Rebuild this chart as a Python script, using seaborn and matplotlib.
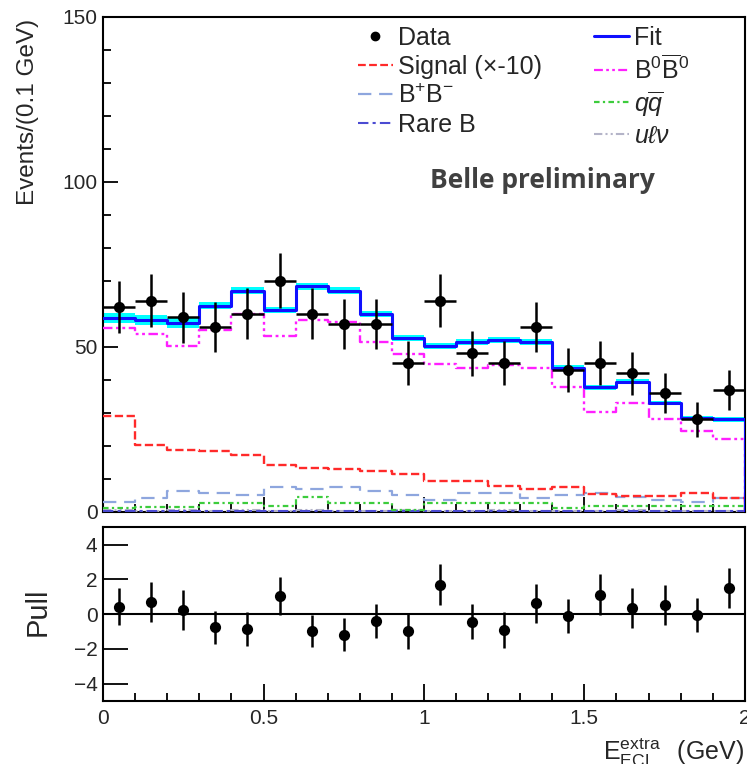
import numpy as np
import pandas as pd
import matplotlib
matplotlib.use("Agg")
import matplotlib.pyplot as plt
from matplotlib.lines import Line2D
from matplotlib.ticker import MultipleLocator
import seaborn as sns

# ---------------- data ----------------
bin_edges = np.linspace(0.0, 2.0, 21)
bin_centers = 0.5 * (bin_edges[:-1] + bin_edges[1:])
data_counts = [62, 64, 59, 56, 60, 70, 60, 57, 57, 45, 64, 48, 45, 56, 43, 45, 42, 36, 28, 37]
fit_total = [58.7, 58.2, 57.2, 62.5, 67.0, 61.2, 68.3, 67.0, 60.0, 52.7,
             50.2, 51.5, 52.0, 51.5, 43.7, 37.7, 39.5, 33.0, 28.5, 28.0]
fit_unc = [1.6, 1.5, 1.4, 1.0, 1.0, 1.0, 1.0, 1.0, 1.0, 0.9,
           0.9, 0.9, 0.9, 0.9, 0.8, 0.8, 0.8, 0.7, 0.7, 0.7]
b0b0 = [55.8, 54.0, 50.2, 55.0, 60.0, 53.2, 58.2, 57.5, 51.5, 47.8,
        44.7, 43.7, 44.5, 43.7, 37.7, 30.3, 33.0, 28.0, 24.5, 22.0]
signal_x10 = [29.0, 20.3, 18.6, 18.3, 17.2, 14.1, 13.4, 12.9, 12.4, 11.6,
              9.5, 9.5, 7.9, 6.9, 7.4, 5.5, 4.8, 4.8, 5.7, 4.3]
bpbm = [3.1, 4.3, 6.2, 5.7, 5.2, 7.4, 6.9, 7.4, 6.2, 5.2,
        3.6, 5.7, 5.7, 4.3, 5.2, 5.7, 4.4, 3.5, 3.0, 4.1]
qqbar = [1.2, 1.5, 1.5, 2.6, 2.6, 1.8, 4.4, 2.6, 2.6, 0.7,
         2.6, 2.6, 2.6, 2.8, 1.2, 1.8, 1.8, 1.8, 1.8, 1.8]
rare_b = [0.3, 0.2, 0.3, 0.2, 0.3, 0.2, 0.3, 0.2, 0.2, 0.3,
          0.2, 0.2, 0.3, 0.2, 0.2, 0.2, 0.3, 0.2, 0.2, 0.2]
ulnu = [0.5, 0.4, 0.5, 0.4, 0.5, 0.4, 0.5, 0.4, 0.4, 0.5,
        0.4, 0.4, 0.5, 0.4, 0.4, 0.4, 0.5, 0.4, 0.4, 0.4]
pull = [0.42, 0.70, 0.23, -0.76, -0.86, 1.03, -0.97, -1.20, -0.38, -1.00,
        1.70, -0.44, -0.91, 0.61, -0.11, 1.12, 0.36, 0.51, -0.06, 1.50]
pull_err = [1.07, 1.13, 1.13, 0.95, 0.98, 1.10, 0.93, 0.95, 0.97, 1.00,
            1.16, 1.00, 1.03, 1.14, 0.97, 1.18, 1.14, 1.14, 0.97, 1.14]

yticks_top = [0, 50, 100, 150]
yticks_pull = [-4, -2, 0, 2, 4]
xticks = [0, 0.5, 1, 1.5, 2]
xtick_labels = ["0", "0.5", "1", "1.5", "2"]

# ---------------- style ----------------
sns.set_theme(style="ticks")
plt.rcParams["font.family"] = ["Liberation Sans", "DejaVu Sans"]
plt.rcParams["mathtext.fontset"] = "custom"
plt.rcParams["mathtext.rm"] = "Liberation Sans"
plt.rcParams["mathtext.it"] = "Liberation Sans:italic"
plt.rcParams["mathtext.bf"] = "Liberation Sans:bold"

fig = plt.figure(figsize=(7.47, 7.64), dpi=100)
ax1 = fig.add_axes([0.138, 0.330, 0.859, 0.648])
ax2 = fig.add_axes([0.138, 0.0825, 0.859, 0.2275])


def step_frame(vals):
    xs = list(np.repeat(bin_edges, 2)[1:-1]) + [bin_edges[-1]]
    ys = list(np.repeat(vals, 2)) + [0.0]
    return pd.DataFrame({"x": xs, "y": ys})


# uncertainty band on the fit
lo = np.array(fit_total) - np.array(fit_unc)
hi = np.array(fit_total) + np.array(fit_unc)
ax1.fill_between(np.repeat(bin_edges, 2)[1:-1], np.repeat(lo, 2), np.repeat(hi, 2),
                 color="#00ffff", lw=0, zorder=2)

ls_sig = (0, (3.5, 1.5))
ls_b0 = (0, (4, 1.5, 1.2, 1.5, 1.2, 1.5))
ls_bp = (0, (6, 3.5))
ls_qq = (0, (2.5, 1.5, 1, 1.5))
ls_rare = (0, (5, 2, 1.5, 2))
ls_ulnu = (0, (4, 1.5, 1, 1.5, 1, 1.5))

components = [
    (ulnu, "#b4b4c8", ls_ulnu, 1.5),
    (rare_b, "#4b4bd2", ls_rare, 1.5),
    (qqbar, "#3ccc3c", ls_qq, 1.6),
    (bpbm, "#8ea6de", ls_bp, 1.6),
    (signal_x10, "#ff2a2a", ls_sig, 1.7),
    (b0b0, "#ff1fff", ls_b0, 1.7),
]
for vals, col, ls, lw in components:
    df = step_frame(vals)
    sns.lineplot(data=df, x="x", y="y", sort=False, estimator=None, ax=ax1,
                 color=col, linestyle=ls, linewidth=lw, zorder=3)

df_fit = step_frame(fit_total)
sns.lineplot(data=df_fit, x="x", y="y", sort=False, estimator=None, ax=ax1,
             color="#1010ff", linewidth=2.2, zorder=4)

# data points
ax1.errorbar(bin_centers, data_counts, yerr=np.sqrt(data_counts), xerr=0.05,
             fmt="none", ecolor="black", elinewidth=1.8, zorder=5)
sns.scatterplot(x=bin_centers, y=data_counts, ax=ax1, color="black", s=65,
                edgecolor="black", linewidth=0, zorder=6)

ax1.set_xlim(0, 2)
ax1.set_ylim(0, 150)
ax1.set_xlabel("")
ax1.set_ylabel("")
ax1.set_yticks(yticks_top)
ax1.yaxis.set_minor_locator(MultipleLocator(10))
ax1.set_xticks(xticks)
ax1.xaxis.set_minor_locator(MultipleLocator(0.1))
ax1.tick_params(axis="both", which="both", direction="in", top=False, right=False,
                width=1.3, color="black")
ax1.tick_params(axis="y", which="major", length=11, labelsize=15, pad=4)
ax1.tick_params(axis="y", which="minor", length=6)
ax1.tick_params(axis="x", which="major", length=11, labelbottom=False)
ax1.tick_params(axis="x", which="minor", length=6)

# legend
handles = [
    Line2D([], [], marker="o", color="black", linestyle="none", markersize=6),
    Line2D([], [], color="#ff2a2a", linestyle=ls_sig, lw=1.6),
    Line2D([], [], color="#8ea6de", linestyle=ls_bp, lw=1.6),
    Line2D([], [], color="#4b4bd2", linestyle=ls_rare, lw=1.5),
    Line2D([], [], color="#1010ff", lw=2.2),
    Line2D([], [], color="#ff1fff", linestyle=ls_b0, lw=1.6),
    Line2D([], [], color="#3ccc3c", linestyle=ls_qq, lw=1.6),
    Line2D([], [], color="#b4b4c8", linestyle=ls_ulnu, lw=1.5),
]
labels = ["Data", "Signal (\u00d7-10)", r"B$^{+}$B$^{-}$", "Rare B",
          "Fit", r"B$^{0}\overline{\mathrm{B}}^{0}$", r"$q\overline{q}$", r"$u\ell\nu$"]
ax1.legend(handles, labels, ncol=2, frameon=False, fontsize=18,
           loc="upper left", bbox_to_anchor=(0.397, 0.982), handlelength=1.4,
           handletextpad=0.2, columnspacing=2.1, labelspacing=0.2, borderpad=0.0,
           borderaxespad=0.0)

ax1.text(0.685, 0.669, "Belle preliminary", transform=ax1.transAxes,
         fontsize=19, fontweight="bold", color="#404040", ha="center", va="center",
         family=["Open Sans", "DejaVu Sans"])

fig.text(0.037, 0.975, "Events/(0.1 GeV)", rotation=90, ha="center", va="top", fontsize=17.5)

# ---------------- pull panel ----------------
ax2.axhline(0, color="black", lw=1.5, zorder=2)
ax2.errorbar(bin_centers, pull, yerr=pull_err, fmt="none", ecolor="black",
             elinewidth=1.8, zorder=3)
sns.scatterplot(x=bin_centers, y=pull, ax=ax2, color="black", s=65,
                edgecolor="black", linewidth=0, zorder=4)
ax2.set_xlim(0, 2)
ax2.set_ylim(-5, 5)
ax2.set_yticks(yticks_pull)
ax2.set_xticks(xticks)
ax2.set_xticklabels(xtick_labels)
ax2.xaxis.set_minor_locator(MultipleLocator(0.1))
ax2.set_xlabel("")
ax2.set_ylabel("")
ax2.tick_params(axis="both", which="both", direction="in", top=False, right=False,
                width=1.3, color="black")
ax2.tick_params(axis="y", which="major", length=18, labelsize=15, pad=4)
ax2.tick_params(axis="x", which="major", length=12, labelsize=15, pad=6)
ax2.tick_params(axis="x", which="minor", length=6)
for ax in (ax1, ax2):
    for sp in ax.spines.values():
        sp.set_linewidth(1.5)
        sp.set_color("black")

fig.text(0.050, 0.199, "Pull", rotation=90, ha="center", va="center", fontsize=21)
fig.text(0.996, -0.007, r"E$_{\mathrm{ECL}}^{\mathrm{extra}}\;\;\;$(GeV)", ha="right", va="bottom",
         fontsize=18)

fig.savefig("out.png", dpi=100)
